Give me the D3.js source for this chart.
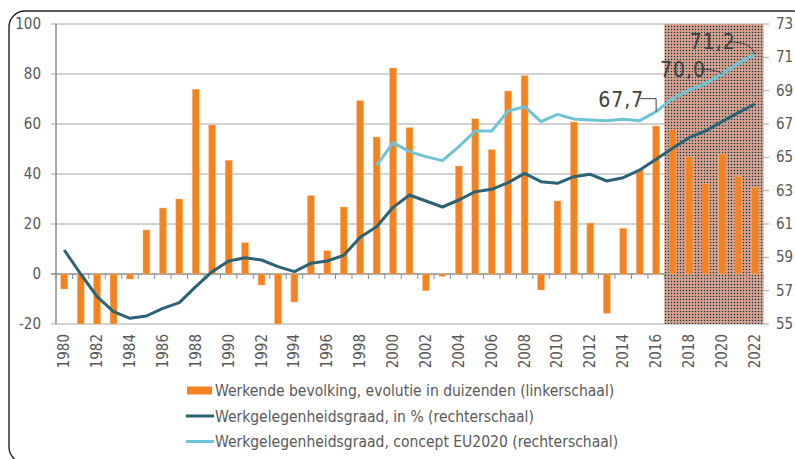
<!DOCTYPE html>
<html>
<head>
<meta charset="utf-8">
<script src="https://cdn.jsdelivr.net/npm/d3@7"></script>
<style>
  body { margin: 0; background: #fff; }
  svg text { font-family: "DejaVu Sans Condensed", "DejaVu Sans", sans-serif; fill: #595959; }
</style>
</head>
<body>
<svg id="chart" width="795" height="459"></svg>
<script>
// jaren 1980 - 2022
var years = d3.range(1980, 2023);
// werkende bevolking, evolutie in duizenden (linkerschaal)
var werkende = [-6, -20, -20, -20, -2, 17.6, 26.4, 30, 73.9, 59.6, 45.5, 12.5, -4.4,
  -20, -11.2, 31.3, 9.3, 26.8, 69.3, 54.8, 82.4, 58.5, -6.7, -0.9, 43.2, 62.1, 49.7,
  73.2, 79.3, -6.4, 29.2, 60.8, 20.4, -15.7, 18.3, 41.6, 59.2, 57.9, 46.9, 36.1, 48,
  39.1, 34.7];
// werkgelegenheidsgraad in % (rechterschaal)
var graad = [59.44, 58.0, 56.64, 55.74, 55.34, 55.48, 55.94, 56.28, 57.24, 58.14, 58.78,
  58.98, 58.84, 58.44, 58.14, 58.64, 58.78, 59.12, 60.2, 60.84, 62.0, 62.74, 62.38, 62.02,
  62.44, 62.94, 63.08, 63.48, 64.04, 63.54, 63.44, 63.84, 63.98, 63.58, 63.78, 64.24,
  64.88, 65.54, 66.18, 66.58, 67.14, 67.68, 68.2];
// concept EU2020 (rechterschaal), vanaf 1999
var eu2020 = [null, null, null, null, null, null, null, null, null, null, null, null,
  null, null, null, null, null, null, null, 64.5, 65.88, 65.34, 65.04, 64.8, 65.64, 66.58,
  66.58, 67.78, 68.04, 67.14, 67.58, 67.3, 67.24, 67.2, 67.28, 67.2, 67.74, 68.54, 69.04,
  69.44, 70.0, 70.64, 71.2];
var leftTicks = [-20, 0, 20, 40, 60, 80, 100];
var rightTicks = [55, 57, 59, 61, 63, 65, 67, 69, 71, 73];
var yearTicks = years.filter(function(d) { return d % 2 == 0; });
var forecastStart = 2017;
var labels = [{year: 2016, text: "67,7", dx: -58, dy: -5, lx: -7, ly: -13, curve: false},
              {year: 2020, text: "70,0", dx: -62, dy: 3, lx: -16, ly: -5, curve: true},
              {year: 2022, text: "71,2", dx: -65, dy: -5, lx: -16, ly: -12, curve: true}];

var legendItems = [
  {type: "bar", color: "#f4821f", text: "Werkende bevolking, evolutie in duizenden (linkerschaal)"},
  {type: "line", color: "#2c6276", text: "Werkgelegenheidsgraad, in % (rechterschaal)"},
  {type: "line", color: "#6ec4d6", text: "Werkgelegenheidsgraad, concept EU2020 (rechterschaal)"}
];

var svg = d3.select("#chart");
var pLeft = 56, pRight = 763, pTop = 24, pBottom = 324;

// kader
svg.append("rect")
  .attr("x", 9).attr("y", 11)
  .attr("width", 800).attr("height", 452)
  .attr("rx", 16)
  .attr("fill", "none")
  .attr("stroke", "#222")
  .attr("stroke-width", 1.4);

var x = d3.scaleBand().domain(years).range([pLeft, pRight]).paddingInner(0.58).paddingOuter(0.29);
var step = x.step();
var yL = d3.scaleLinear().domain([-20, 100]).range([pBottom, pTop]);
var yR = d3.scaleLinear().domain([55, 73]).range([pBottom, pTop]);
var cx = function(yr) { return x(yr) + x.bandwidth() / 2; };

// arcering patroon voor prognose
var defs = svg.append("defs");
var pat = defs.append("pattern").attr("id", "hatch")
  .attr("patternUnits", "userSpaceOnUse").attr("width", 3).attr("height", 3);
pat.append("rect").attr("width", 3).attr("height", 3).attr("fill", "#ea9b80");
pat.append("rect").attr("x", 2).attr("width", 1).attr("height", 3).attr("fill", "#a29c98");
pat.append("rect").attr("y", 2).attr("width", 3).attr("height", 1).attr("fill", "#a29c98");
pat.append("rect").attr("x", 2).attr("y", 2).attr("width", 1).attr("height", 1).attr("fill", "#2a2a2a");

// rasterlijnen
svg.append("g").selectAll("line").data(leftTicks).enter().append("line")
  .attr("x1", pLeft - 5).attr("x2", pRight)
  .attr("y1", function(d) { return yL(d); }).attr("y2", function(d) { return yL(d); })
  .attr("stroke", function(d) { return d == 0 ? "#8c8c8c" : "#a6a6a6"; })
  .attr("stroke-width", function(d) { return d == 0 ? 1.5 : 1; });

// prognose zone
svg.append("rect")
  .attr("x", cx(forecastStart) - step / 2)
  .attr("y", pTop)
  .attr("width", pRight - (cx(forecastStart) - step / 2))
  .attr("height", pBottom - pTop)
  .attr("fill", "url(#hatch)");

// ticks op de nullijn
svg.append("g").selectAll("line").data(d3.range(0, years.length + 1)).enter().append("line")
  .attr("x1", function(i) { return pLeft + i * step; })
  .attr("x2", function(i) { return pLeft + i * step; })
  .attr("y1", yL(0)).attr("y2", yL(0) + 5)
  .attr("stroke", "#8c8c8c");

// linker as
svg.append("line").attr("x1", pLeft).attr("x2", pLeft).attr("y1", pTop).attr("y2", pBottom)
  .attr("stroke", "#8c8c8c").attr("stroke-width", 1.5);
svg.append("g").selectAll("text").data(leftTicks).enter().append("text")
  .attr("x", 41).attr("y", function(d) { return yL(d) + 5; })
  .attr("text-anchor", "end").attr("font-size", 15)
  .text(function(d) { return d; });

// rechter as
svg.append("line").attr("x1", pRight).attr("x2", pRight).attr("y1", pTop).attr("y2", pBottom)
  .attr("stroke", "#a6a6a6");
svg.append("g").selectAll("line").data(rightTicks).enter().append("line")
  .attr("x1", pRight).attr("x2", pRight + 6)
  .attr("y1", function(d) { return yR(d); }).attr("y2", function(d) { return yR(d); })
  .attr("stroke", "#a6a6a6");
svg.append("g").selectAll("text").data(rightTicks).enter().append("text")
  .attr("x", 776).attr("y", function(d) { return yR(d) + 5; })
  .attr("font-size", 15)
  .text(function(d) { return d; });

// jaartallen
svg.append("g").selectAll("text").data(yearTicks).enter().append("text")
  .attr("transform", function(d) { return "translate(" + (cx(d) + 5) + ",334) rotate(-90)"; })
  .attr("text-anchor", "end").attr("font-size", 15)
  .text(function(d) { return d; });

// staven
svg.append("g").selectAll("rect").data(werkende).enter().append("rect")
  .attr("x", function(d, i) { return x(years[i]); })
  .attr("width", x.bandwidth())
  .attr("y", function(d) { return yL(Math.max(0, d)); })
  .attr("height", function(d) { return Math.abs(yL(d) - yL(0)); })
  .attr("fill", "#f4821f")
  .attr("stroke", "#f9b880").attr("stroke-width", 0.5);

// lijnen
var line = d3.line()
  .defined(function(d) { return d != null; })
  .x(function(d, i) { return cx(years[i]); })
  .y(function(d) { return yR(d); });

svg.append("path").datum(graad).attr("d", line)
  .attr("fill", "none").attr("stroke", "#2c6276").attr("stroke-width", 3).attr("stroke-linejoin", "round");
svg.append("path").datum(eu2020).attr("d", line)
  .attr("fill", "none").attr("stroke", "#6ec4d6").attr("stroke-width", 3).attr("stroke-linejoin", "round");

// labels met verbindingslijn
labels.forEach(function(l) {
  var i = years.indexOf(l.year);
  var px = cx(l.year), py = yR(eu2020[i]);
  svg.append("text")
    .attr("x", px + l.dx).attr("y", py + l.dy)
    .attr("text-anchor", "start").attr("font-size", 21)
    .attr("letter-spacing", 1)
    .style("fill", "#404040")
    .text(l.text);
  var sx = px + l.lx - 9, sy = py + l.ly;
  var d = l.curve
    ? "M" + (sx) + "," + sy + "L" + (sx + 5) + "," + sy + "Q" + (px - 3) + "," + (sy + 1) + " " + px + "," + py
    : "M" + sx + "," + sy + "L" + px + "," + sy + "L" + px + "," + py;
  svg.append("path").attr("d", d).attr("fill", "none").attr("stroke", "#404040").attr("stroke-width", 1);
});

// legenda
var leg = svg.append("g").selectAll("g").data(legendItems).enter().append("g")
  .attr("transform", function(d, i) { return "translate(186," + (390.5 + i * 25.5) + ")"; });
leg.each(function(d) {
  var g = d3.select(this);
  if (d.type == "bar") {
    g.append("rect").attr("x", 1).attr("y", -4).attr("width", 25).attr("height", 8).attr("fill", d.color);
  } else {
    g.append("line").attr("x1", 0).attr("x2", 28).attr("stroke", d.color).attr("stroke-width", 3);
  }
  g.append("text").attr("x", 29).attr("y", 5.5).attr("font-size", 15.5).text(d.text);
});
</script>
</body>
</html>
